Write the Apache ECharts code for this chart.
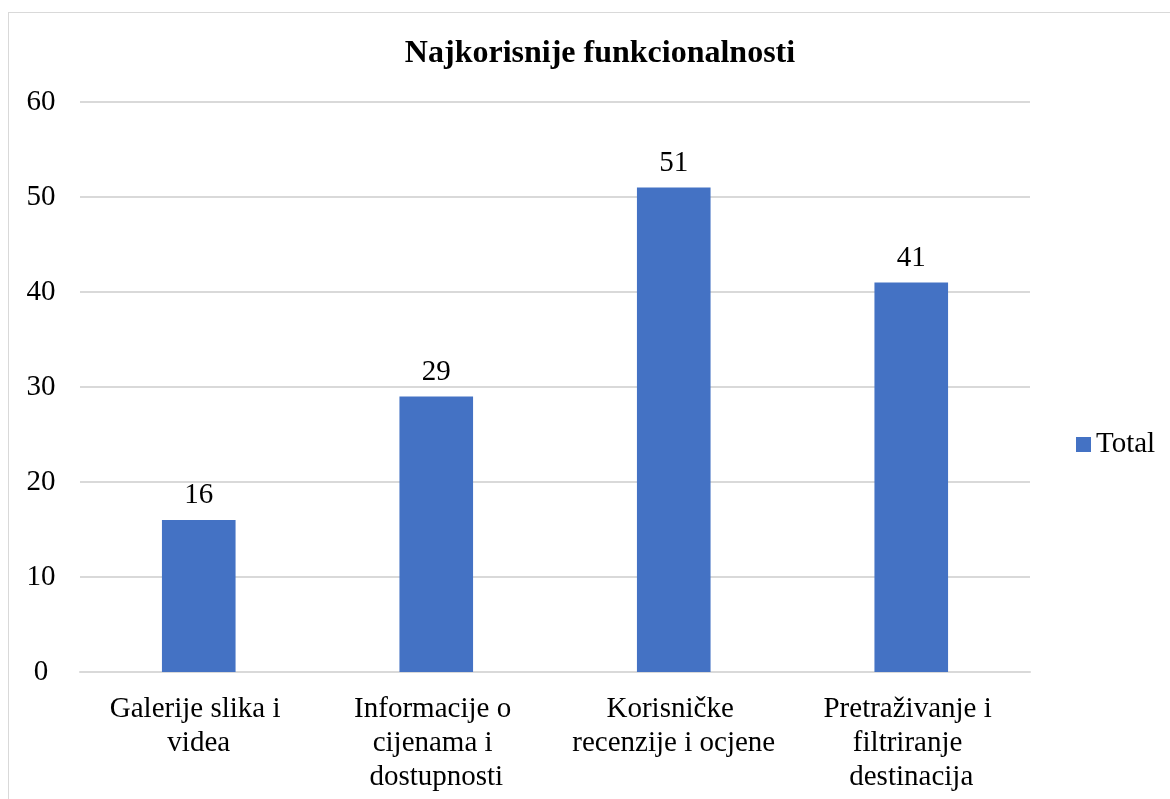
<!DOCTYPE html>
<html>
<head>
<meta charset="utf-8">
<script src="https://cdn.jsdelivr.net/npm/echarts@6/dist/echarts.min.js"></script>
<style>
  html, body { margin: 0; padding: 0; background: #fff; overflow: hidden; }
  .frame {
    position: absolute;
    left: 8px;
    top: 12px;
    width: 1300px;
    height: 900px;
    border-left: 1px solid #d9d9d9;
    border-top: 1px solid #d9d9d9;
  }
  #main { position: absolute; left: 0; top: 0; width: 1170px; height: 799px; }
</style>
</head>
<body>
<div class="frame"></div>
<div id="main"></div>
<script>
const categories = [
  'Galerije slika i videa',
  'Informacije o cijenama i dostupnosti',
  'Korisničke recenzije i ocjene',
  'Pretraživanje i filtriranje destinacija'
]
const totals = [16, 29, 51, 41]
const yTicks = { min: 0, max: 60, interval: 10 }

const font = '"Liberation Serif", "Times New Roman", serif'

const option = {
  animation: false,
  title: {
    text: 'Najkorisnije funkcionalnosti',
    left: 595,
    textAlign: 'center',
    top: 33,
    textStyle: { fontFamily: font, fontSize: 32, fontWeight: 'bold', color: '#000' },
  },
  legend: {
    data: ['Total'],
    left: 1071,
    top: 425,
    itemWidth: 15,
    itemHeight: 15,
    itemGap: 6,
    icon: 'rect',
    textStyle: { fontFamily: font, fontSize: 29, color: '#000' },
  },
  grid: { left: 80, right: 140, top: 102, bottom: 127 },
  xAxis: {
    type: 'category',
    data: categories,
    axisLine: { lineStyle: { color: '#d9d9d9', width: 2 } },
    axisTick: { show: false },
    axisLabel: {
      interval: 0,
      margin: 20,
      width: 215,
      overflow: 'break',
      lineHeight: 34,
      fontFamily: font,
      fontSize: 29,
      color: '#000',
    },
  },
  yAxis: {
    type: 'value',
    min: yTicks.min,
    max: yTicks.max,
    interval: yTicks.interval,
    axisLine: { show: false },
    axisTick: { show: false },
    splitLine: { lineStyle: { color: '#d9d9d9', width: 2 } },
    // labels sit centred in the left column, like the original
    axisLabel: { margin: 39, align: 'center', fontFamily: font, fontSize: 29, color: '#000' },
  },
  series: [
    {
      name: 'Total',
      type: 'bar',
      data: totals,
      barWidth: '31%',
      itemStyle: { color: '#4472c4' },
      label: {
        show: true,
        position: 'top',
        distance: 10,
        fontFamily: font,
        fontSize: 29,
        color: '#000',
      },
    },
  ],
}

const myChart = echarts.init(document.getElementById('main'))
myChart.setOption(option)
</script>
</body>
</html>
